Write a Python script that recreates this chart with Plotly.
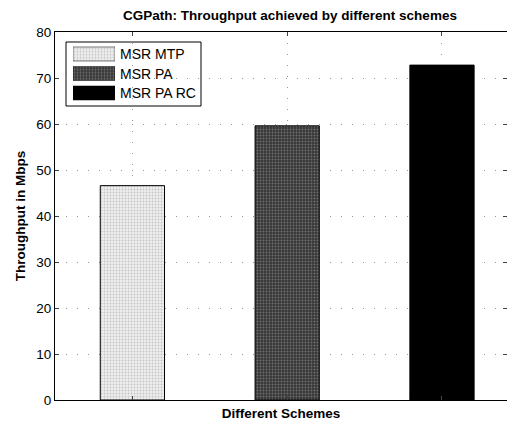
import plotly.graph_objects as go

schemes = ["MSR MTP", "MSR PA", "MSR PA RC"]
positions = [1, 2, 3]
throughput = [46.6, 59.6, 72.8]
y_ticks = [0, 10, 20, 30, 40, 50, 60, 70, 80]

styles = [
    dict(color="#e4e4e4", pattern=dict(shape=".", fgcolor="#9a9a9a", bgcolor="#eeeeee", size=3, solidity=0.3)),
    dict(color="#4a4a4a", pattern=dict(shape=".", fgcolor="#a8a8a8", bgcolor="#383838", size=3, solidity=0.3)),
    dict(color="#000000"),
]

fig = go.Figure()
for name, xp, val, st in zip(schemes, positions, throughput, styles):
    fig.add_trace(go.Bar(
        x=[xp], y=[val], name=name, width=0.415, showlegend=False,
        marker=dict(line=dict(color="black", width=1), **st),
    ))

# legend swatches drawn as horizontal bars in a small overlay axis
for name, st in zip(schemes, styles):
    fig.add_trace(go.Bar(
        x=[1], y=[name], orientation="h", width=0.72, showlegend=False,
        xaxis="x2", yaxis="y2", hoverinfo="skip",
        marker=dict(line=dict(color="black", width=0.5), **st),
    ))

font = "Liberation Sans, Arial, Helvetica, sans-serif"
PL, PR, PT, PB = 55, 507, 32, 400


def px_x(p):
    return (p - PL) / (PR - PL)


def px_y(p):
    return (PB - p) / (PB - PT)


fig.add_shape(type="rect", xref="paper", yref="paper", layer="between",
              x0=px_x(66), x1=px_x(201), y0=px_y(106), y1=px_y(42),
              line=dict(color="black", width=1), fillcolor="white")

row_y = [54, 73.5, 93]
for name, ry in zip(schemes, row_y):
    fig.add_annotation(text=name, xref="paper", yref="paper",
                       x=px_x(118), y=px_y(ry), xanchor="left", yanchor="middle",
                       showarrow=False, font=dict(size=14))

fig.update_layout(
    width=507, height=424,
    margin=dict(l=PL, r=507 - PR, t=PT, b=424 - PB),
    paper_bgcolor="white", plot_bgcolor="white",
    font=dict(family=font, size=13, color="black"),
    title=dict(text="<b>CGPath: Throughput achieved by different schemes</b>",
               x=290 / 507, xanchor="center", xref="container",
               y=1 - 15 / 424, yanchor="middle", font=dict(size=13.5)),
    barmode="overlay",
    showlegend=False,
    xaxis=dict(range=[0.5, 3.42], tickvals=positions, ticktext=["", "", ""],
               showgrid=True, gridcolor="#999", griddash="1px,10px", gridwidth=1,
               showline=True, linecolor="black", linewidth=1, mirror="ticks",
               ticks="inside", ticklen=4, zeroline=False,
               title=dict(text="<b>Different Schemes</b>", standoff=5, font=dict(size=13.5))),
    yaxis=dict(range=[0, 80], tickvals=y_ticks,
               showgrid=True, gridcolor="#999", griddash="1px,10px", gridwidth=1,
               showline=True, linecolor="black", linewidth=1, mirror="ticks",
               ticks="inside", ticklen=4, zeroline=False, tickfont=dict(size=13.5),
               title=dict(text="<b>Throughput in Mbps</b>", standoff=7, font=dict(size=13.5))),
    xaxis2=dict(domain=[px_x(73), px_x(115)], range=[0, 1], visible=False,
                fixedrange=True, anchor="y2"),
    yaxis2=dict(domain=[px_y(102.75), px_y(44.25)], autorange="reversed", visible=False,
                fixedrange=True, anchor="x2", type="category"),
)
fig.write_html("out.html")
